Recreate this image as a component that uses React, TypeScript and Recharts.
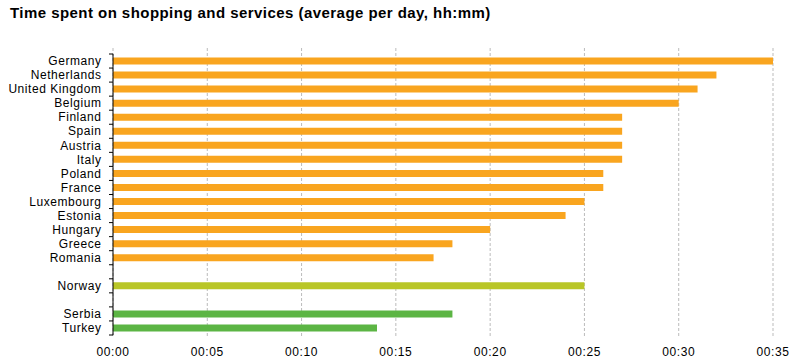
import React from "react"
import { BarChart, Bar, XAxis, YAxis, CartesianGrid, Cell } from "recharts"

// rows top to bottom, "" marks an empty spacer row
const countries = [
  "Germany", "Netherlands", "United Kingdom", "Belgium", "Finland", "Spain", "Austria", "Italy",
  "Poland", "France", "Luxembourg", "Estonia", "Hungary", "Greece", "Romania",
  "", "Norway", "", "Serbia", "Turkey",
]
// minutes per day
const minutes = [35, 32, 31, 30, 27, 27, 27, 27, 26, 26, 25, 24, 20, 18, 17, null, 25, null, 18, 14]
const xTicks = [0, 5, 10, 15, 20, 25, 30, 35]
const efta = ["Norway"]
const candidates = ["Serbia", "Turkey"]

const font = "'Liberation Sans', Arial, sans-serif"

const rows = countries.map((c, i) => ({ id: `r${i}`, country: c, value: minutes[i] }))

const barColor = (c: string) =>
  efta.includes(c) ? "#b9c627" : candidates.includes(c) ? "#5cb544" : "#f9a51f"

const fmt = (m: number) => `00:${String(m).padStart(2, "0")}`

function CountryTick(props: any) {
  const { x, y, payload, index } = props
  const half = payload.offset ?? 7
  const label = countries[index] ?? ""
  return (
    <g>
      <line x1={x + 8} x2={x + 12} y1={y - half} y2={y - half} stroke="#000" />
      {index === countries.length - 1 && (
        <line x1={x + 8} x2={x + 12} y1={y + half} y2={y + half} stroke="#000" />
      )}
      <text
        x={x + 0.5}
        y={y}
        dy="0.35em"
        textAnchor="end"
        fontSize={12}
        letterSpacing={0.55}
        fontFamily={font}
        fill="#000"
      >
        {label}
      </text>
    </g>
  )
}

function GridLine(props: any) {
  const { x1, x2, y1, y2 } = props
  return <line x1={x1} x2={x2} y1={y1 - 6} y2={y2 + 1} stroke="#bbb" strokeDasharray="3 2" />
}

export default function App() {
  return (
    <div style={{ position: "fixed", left: 0, top: 0, width: 805, height: 361, background: "#fff" }}>
      <div
        style={{
          position: "absolute", left: 10, top: 4, fontFamily: font, fontWeight: "bold",
          fontSize: 15, letterSpacing: 0.45, lineHeight: "17px", color: "#000", whiteSpace: "nowrap",
        }}
      >
        Time spent on shopping and services (average per day, hh:mm)
      </div>
      <BarChart
        width={805}
        height={361}
        data={rows}
        layout="vertical"
        margin={{ top: 54, right: 32, bottom: 0, left: 0 }}
        barCategoryGap="25%"
      >
        <CartesianGrid horizontal={false} vertical={<GridLine />} />
        <XAxis
          type="number"
          domain={[0, 35]}
          ticks={xTicks}
          tickFormatter={fmt}
          axisLine={false}
          tickLine={false}
          tickMargin={6}
          height={26}
          interval={0}
          tick={{ fontSize: 12, fontFamily: font, fill: "#000", letterSpacing: 0.6 }}
        />
        <YAxis
          type="category"
          dataKey="id"
          width={113}
          axisLine={{ stroke: "#000" }}
          tickLine={false}
          tickSize={4}
          tickMargin={8}
          interval={0}
          tick={<CountryTick />}
        />
        <Bar dataKey="value" isAnimationActive={false}>
          {rows.map((r) => (
            <Cell key={r.id} fill={barColor(r.country)} />
          ))}
        </Bar>
      </BarChart>
    </div>
  )
}
